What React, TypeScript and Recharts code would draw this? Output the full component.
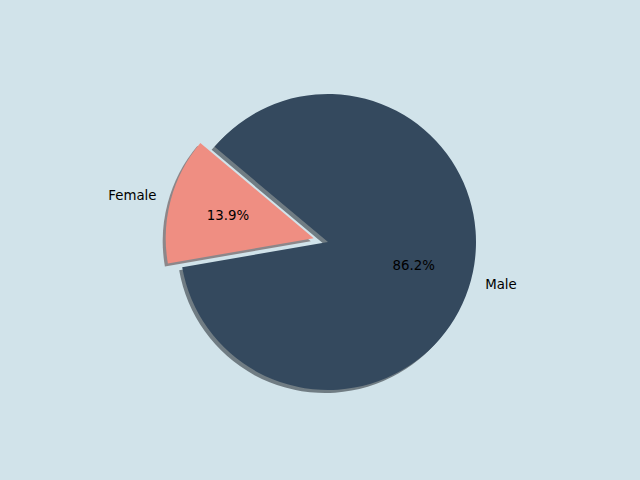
import React from 'react';
import { PieChart, Pie, Cell } from 'recharts';

const labels = ['Female', 'Male'];
const counts = [277, 1723];
const colors = ['#ef8e82', '#34495e'];
const shadowColors = ['rgb(72,44,41)', 'rgb(16,22,28)'];
const explode = [0.1, 0];

const data = labels.map((name, i) => ({ name, value: counts[i] }));
const total = counts.reduce((a, b) => a + b, 0);

const START = 140;
const CX = 328;
const CY = 242;
const R = 148;
const SHADOW = 3;
const RADIAN = Math.PI / 180;

// explode offsets per slice, from the slice's mid angle
let acc = 0;
const offsets = counts.map((c, i) => {
  const mid = START + (acc + c / 2) / total * 360;
  acc += c;
  const d = explode[i] * R;
  return { dx: d * Math.cos(mid * RADIAN), dy: -d * Math.sin(mid * RADIAN) };
});

const FONT = "'DejaVu Sans', sans-serif";

const makeLabel = (show: number) => (props: any) => {
  const { cx, cy, midAngle, outerRadius, percent, index, name } = props;
  if (index !== show) return null;
  const cos = Math.cos(-midAngle * RADIAN);
  const sin = Math.sin(-midAngle * RADIAN);
  const lx = cx + outerRadius * 1.1 * cos;
  const ly = cy + outerRadius * 1.1 * sin;
  const px = cx + outerRadius * 0.6 * cos;
  const py = cy + outerRadius * 0.6 * sin;
  const pct = (percent * 100 + 1e-9).toFixed(1) + '%';
  return (
    <g>
      <text x={lx} y={ly} textAnchor={lx < cx ? 'end' : 'start'} dominantBaseline="central"
        fontFamily={FONT} fontSize={13.33} fill="#000">{name}</text>
      <text x={px} y={py} textAnchor="middle" dominantBaseline="central"
        fontFamily={FONT} fontSize={13.33} fill="#000">{pct}</text>
    </g>
  );
};

export default function App() {
  return (
    <div style={{ position: 'absolute', left: 0, top: 0, width: 640, height: 480, background: '#d1e3ea' }}>
      <PieChart width={640} height={480} margin={{ top: 0, right: 0, bottom: 0, left: 0 }}>
        {data.map((_, s) => (
          <Pie key={'sh' + s} data={data} dataKey="value" nameKey="name"
            cx={CX + offsets[s].dx - SHADOW} cy={CY + offsets[s].dy + SHADOW}
            outerRadius={R} innerRadius={0} startAngle={START} endAngle={START + 360}
            stroke="none" isAnimationActive={false} labelLine={false}>
            {data.map((__, i) => (
              <Cell key={i} fill={i === s ? shadowColors[i] : 'none'} fillOpacity={0.5} stroke="none" />
            ))}
          </Pie>
        ))}
        {data.map((_, s) => (
          <Pie key={'p' + s} data={data} dataKey="value" nameKey="name"
            cx={CX + offsets[s].dx} cy={CY + offsets[s].dy}
            outerRadius={R} innerRadius={0} startAngle={START} endAngle={START + 360}
            stroke="none" isAnimationActive={false} labelLine={false} label={makeLabel(s)}>
            {data.map((__, i) => (
              <Cell key={i} fill={i === s ? colors[i] : 'none'} stroke="none" />
            ))}
          </Pie>
        ))}
      </PieChart>
    </div>
  );
}
